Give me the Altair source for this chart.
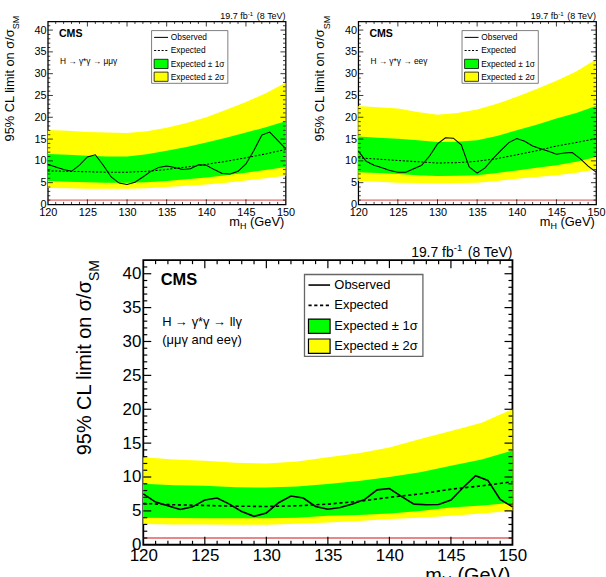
import altair as alt
import pandas as pd

FONT = "Liberation Sans"

# ---------------- data ----------------
x_band = [120, 122.5, 125, 127.5, 130, 132.5, 135, 137.5, 140, 142.5, 145, 147.5, 150]
x_obs = list(range(120, 151))

# H -> gamma* gamma -> mu mu gamma
mm_exp = [7.7, 7.6, 7.5, 7.4, 7.4, 7.6, 8.0, 8.6, 9.2, 9.9, 10.7, 11.6, 12.6]
mm_g_lo = [5.4, 5.2, 5.1, 5.0, 5.0, 5.1, 5.4, 5.8, 6.2, 6.7, 7.3, 7.9, 8.6]
mm_g_hi = [11.6, 11.4, 11.2, 11.0, 11.0, 11.5, 12.3, 13.2, 14.2, 15.3, 16.5, 17.7, 19.1]
mm_y_lo = [3.8, 3.7, 3.6, 3.6, 3.6, 3.7, 4.0, 4.3, 4.6, 5.0, 5.5, 6.0, 6.6]
mm_y_hi = [17.1, 16.9, 16.6, 16.5, 16.4, 16.8, 17.6, 18.7, 20.0, 21.7, 23.5, 25.5, 27.9]
mm_obs = [9.2, 8.6, 8.0, 7.6, 9.0, 10.9, 11.4, 9.0, 6.3, 4.9, 4.6, 5.1, 6.3, 7.6, 8.5, 8.8,
          8.5, 8.0, 8.2, 9.1, 9.0, 8.0, 7.1, 7.0, 7.6, 9.3, 12.4, 15.9, 16.6, 14.7, 12.8]

# H -> gamma* gamma -> e e gamma
ee_exp = [10.7, 10.4, 10.1, 9.8, 9.5, 9.6, 9.9, 10.5, 11.4, 12.3, 13.4, 14.2, 15.1]
ee_g_lo = [7.4, 7.2, 7.0, 6.7, 6.5, 6.6, 6.7, 7.2, 7.8, 8.4, 9.0, 9.8, 10.9]
ee_g_hi = [15.6, 15.3, 15.1, 14.7, 14.3, 14.4, 14.7, 15.7, 17.0, 18.3, 19.7, 21.0, 22.6]
ee_y_lo = [5.4, 5.2, 5.0, 4.9, 4.8, 4.9, 5.0, 5.4, 5.9, 6.3, 6.7, 7.3, 8.0]
ee_y_hi = [22.6, 22.3, 22.0, 21.2, 20.6, 21.0, 21.8, 23.1, 24.7, 26.5, 28.4, 30.5, 33.3]
ee_obs = [12.3, 9.9, 9.0, 8.4, 7.8, 7.4, 7.4, 8.2, 9.0, 11.1, 13.9, 15.3, 15.2, 13.7, 8.6, 7.2,
          8.4, 10.5, 12.4, 14.2, 15.1, 14.5, 13.4, 12.8, 12.2, 11.5, 11.8, 11.9, 10.5, 8.8, 7.4]

# combined ll gamma
ll_exp = [6.1, 5.9, 5.8, 5.7, 5.65, 5.75, 6.0, 6.4, 7.0, 7.5, 8.2, 8.7, 9.3]
ll_g_lo = [4.0, 3.95, 3.9, 3.9, 3.9, 4.0, 4.3, 4.4, 4.6, 5.0, 5.5, 5.8, 6.2]
ll_g_hi = [9.0, 8.8, 8.7, 8.5, 8.45, 8.6, 8.95, 9.4, 10.0, 10.7, 11.65, 12.6, 13.9]
ll_y_lo = [3.05, 3.0, 3.0, 2.95, 2.95, 3.1, 3.3, 3.5, 3.8, 4.0, 4.3, 4.6, 5.0]
ll_y_hi = [12.9, 12.6, 12.4, 12.1, 12.0, 12.3, 12.9, 13.5, 14.35, 15.6, 16.8, 18.0, 20.0]
ll_obs = [7.5, 6.3, 5.75, 5.2, 5.6, 6.6, 6.9, 6.0, 4.9, 4.2, 4.7, 6.2, 7.2, 6.9, 5.65, 5.25,
          5.5, 6.0, 6.7, 8.1, 8.3, 7.1, 6.0, 5.9, 5.95, 6.6, 8.45, 10.2, 9.5, 6.7, 5.6]

x_labels = [120, 125, 130, 135, 140, 145, 150]
y_labels = [0, 5, 10, 15, 20, 25, 30, 35, 40]
x_major = [125, 130, 135, 140, 145]
x_minor = [v for v in range(121, 150) if v % 5]
y_major = [5, 10, 15, 20, 25, 30, 35, 40]
y_minor = [v for v in range(1, 42) if v % 5]
limit_line = [1]

legend_labels = ["Observed", "Expected", "Expected ± 1σ", "Expected ± 2σ"]
lumi_text = ["19.7 fb", "-1", "(8 TeV)"]

# ---------------- helpers ----------------
ARIAL = {"0": 556, "1": 556, "2": 556, "3": 556, "4": 556, "5": 556, "6": 556, "7": 556,
         "8": 556, "9": 556, ".": 278, " ": 278, "f": 278, "b": 556, "(": 333, ")": 333,
         "T": 611, "e": 556, "V": 667, "S": 667, "M": 833, "H": 722, "G": 778, "m": 833,
         "-": 333}


def tw(s, fs):
    return sum(ARIAL.get(c, 556) for c in s) / 1000.0 * fs


ONE = pd.DataFrame({"a": [0]})


def panel(exp, glo, ghi, ylo, yhi, obs, proc_lines, k, w, h, sm_off, xt_off):
    xs = alt.Scale(domain=[120, 150], nice=False, zero=False)
    ys = alt.Scale(domain=[0, 42], nice=False, zero=False)
    xaxis = alt.Axis(values=x_labels, ticks=False, domain=False, grid=False, title=None,
                     labelFont=FONT, labelFontSize=17 * k, labelColor="black",
                     labelPadding=3 * k, labelFlush=False, labelOverlap=False, format="d")
    yaxis = alt.Axis(values=y_labels, ticks=False, domain=False, grid=False, title=None,
                     labelFont=FONT, labelFontSize=17 * k, labelColor="black",
                     labelPadding=2.5 * k, labelOverlap=False, format="d")

    def X(f):
        return alt.X(f, scale=xs, axis=xaxis)

    def Y(f):
        return alt.Y(f, scale=ys, axis=yaxis)

    bands = pd.DataFrame({"x": x_band, "exp": exp, "lo1": glo, "hi1": ghi, "lo2": ylo, "hi2": yhi})
    obs_df = pd.DataFrame({"x": x_obs, "obs": obs})

    layers = []
    layers.append(alt.Chart(bands).mark_area(color="#ffff00").encode(
        x=X("x:Q"), y=Y("lo2:Q"), y2="hi2:Q"))
    layers.append(alt.Chart(bands).mark_area(color="#00ff00").encode(
        x=X("x:Q"), y=Y("lo1:Q"), y2="hi1:Q"))
    layers.append(alt.Chart(pd.DataFrame({"y": limit_line})).mark_rule(
        color="#d01010", strokeWidth=1.2 * k).encode(
        y=Y("y:Q"), x=alt.value(0), x2=alt.value(w)))
    layers.append(alt.Chart(bands).mark_line(color="black", strokeWidth=1.6 * k,
                                             strokeDash=[3.2 * k, 2.6 * k]).encode(
        x=X("x:Q"), y=Y("exp:Q")))
    layers.append(alt.Chart(obs_df).mark_line(color="black", strokeWidth=1.6 * k).encode(
        x=X("x:Q"), y=Y("obs:Q")))

    # ticks on the four sides (inside the frame)
    for vals, ln in ((x_major, 8 * k), (x_minor, 4 * k)):
        d = pd.DataFrame({"x": vals})
        layers.append(alt.Chart(d).mark_rule(color="black", strokeWidth=1.2 * k).encode(
            x=X("x:Q"), y=alt.value(h), y2=alt.value(h - ln)))
        layers.append(alt.Chart(d).mark_rule(color="black", strokeWidth=1.2 * k).encode(
            x=X("x:Q"), y=alt.value(0), y2=alt.value(ln)))
    for vals, ln in ((y_major, 8 * k), (y_minor, 4 * k)):
        d = pd.DataFrame({"y": vals})
        layers.append(alt.Chart(d).mark_rule(color="black", strokeWidth=1.2 * k).encode(
            y=Y("y:Q"), x=alt.value(0), x2=alt.value(ln)))
        layers.append(alt.Chart(d).mark_rule(color="black", strokeWidth=1.2 * k).encode(
            y=Y("y:Q"), x=alt.value(w), x2=alt.value(w - ln)))

    # legend
    layers.append(alt.Chart(ONE).mark_rect(fill="white", stroke="#666666", strokeWidth=1.3 * k).encode(
        x=alt.value(162 * k), x2=alt.value(281 * k), y=alt.value(14.4 * k), y2=alt.value(96.7 * k)))
    ly = [25, 45.4, 66.4, 86.4]
    layers.append(alt.Chart(ONE).mark_rule(color="black", strokeWidth=1.6 * k).encode(
        x=alt.value(166 * k), x2=alt.value(187.7 * k), y=alt.value(ly[0] * k)))
    layers.append(alt.Chart(ONE).mark_rule(color="black", strokeWidth=1.6 * k,
                                           strokeDash=[3.2 * k, 2.6 * k]).encode(
        x=alt.value(166 * k), x2=alt.value(187.7 * k), y=alt.value(ly[1] * k)))
    for col, yc in (("#00ff00", ly[2]), ("#ffff00", ly[3])):
        layers.append(alt.Chart(ONE).mark_rect(fill=col, stroke="black", strokeWidth=1.2 * k).encode(
            x=alt.value(166 * k), x2=alt.value(187.7 * k),
            y=alt.value((yc - 7.2) * k), y2=alt.value((yc + 7.2) * k)))
    for lab, yc in zip(legend_labels, ly):
        layers.append(alt.Chart(ONE).mark_text(text=lab, align="left", baseline="middle",
                                               font=FONT, fontSize=13 * k, color="black").encode(
            x=alt.value(192 * k), y=alt.value(yc * k)))

    # CMS label and process text
    layers.append(alt.Chart(ONE).mark_text(text="CMS", align="left", baseline="middle",
                                           font=FONT, fontWeight="bold", fontSize=16.5 * k,
                                           color="black").encode(
        x=alt.value(17.5 * k), y=alt.value(20 * k)))
    for i, line in enumerate(proc_lines):
        layers.append(alt.Chart(ONE).mark_text(text=line, align="left", baseline="middle",
                                               font=FONT, fontSize=13 * k, color="black").encode(
            x=alt.value(19 * k), y=alt.value((61.7 + 19 * i) * k)))

    # luminosity title: 19.7 fb^-1 (8 TeV)
    fs_t, fs_s = 14 * k, 9.5 * k
    sp = tw(" ", fs_t)
    tot = tw(lumi_text[0], fs_t) + tw(lumi_text[1], fs_s) + sp + tw(lumi_text[2], fs_t)
    x0 = w - tot
    base = -3.3 * k
    layers.append(alt.Chart(ONE).mark_text(text=lumi_text[0], align="left", baseline="alphabetic",
                                           font=FONT, fontSize=fs_t, color="black").encode(
        x=alt.value(x0), y=alt.value(base)))
    layers.append(alt.Chart(ONE).mark_text(text=lumi_text[1], align="left", baseline="alphabetic",
                                           font=FONT, fontSize=fs_s, color="black").encode(
        x=alt.value(x0 + tw(lumi_text[0], fs_t)), y=alt.value(base - 5.5 * k)))
    layers.append(alt.Chart(ONE).mark_text(text=lumi_text[2], align="right", baseline="alphabetic",
                                           font=FONT, fontSize=fs_t, color="black").encode(
        x=alt.value(w), y=alt.value(base)))

    # y axis title: 95% CL limit on sigma/sigma_SM
    fs_y, fs_ys = 20 * k, 14 * k
    layers.append(alt.Chart(ONE).mark_text(text="SM", angle=270, align="right", baseline="middle",
                                           font=FONT, fontSize=fs_ys, color="black").encode(
        x=alt.value(-49 * k), y=alt.value(sm_off)))
    layers.append(alt.Chart(ONE).mark_text(text="95% CL limit on σ/σ", angle=270, align="right",
                                           baseline="middle", font=FONT, fontSize=fs_y,
                                           color="black").encode(
        x=alt.value(-59 * k), y=alt.value(sm_off + tw("SM", fs_ys))))

    # x axis title: m_H (GeV)
    xr = 369 * k
    by = h + xt_off
    layers.append(alt.Chart(ONE).mark_text(text="(GeV)", align="right", baseline="alphabetic",
                                           font=FONT, fontSize=fs_y, color="black").encode(
        x=alt.value(xr), y=alt.value(by)))
    xh = xr - tw(" (GeV)", fs_y)
    layers.append(alt.Chart(ONE).mark_text(text="H", align="right", baseline="alphabetic",
                                           font=FONT, fontSize=fs_ys, color="black").encode(
        x=alt.value(xh), y=alt.value(by + 4.5 * k)))
    layers.append(alt.Chart(ONE).mark_text(text="m", align="right", baseline="alphabetic",
                                           font=FONT, fontSize=fs_y, color="black").encode(
        x=alt.value(xh - tw("H", fs_ys)), y=alt.value(by)))

    return alt.layer(*layers).properties(
        width=w, height=h,
        view=alt.ViewBackground(stroke="black", strokeWidth=1.5 * k + 0.3))


K = 0.644
tl = panel(mm_exp, mm_g_lo, mm_g_hi, mm_y_lo, mm_y_hi, mm_obs,
           ["H → γ*γ → μμγ"], K, 239, 184, -5.5, 21.7)
tr = panel(ee_exp, ee_g_lo, ee_g_hi, ee_y_lo, ee_y_hi, ee_obs,
           ["H → γ*γ → eeγ"], K, 239, 184, -5.5, 21.7)
bot = panel(ll_exp, ll_g_lo, ll_g_hi, ll_y_lo, ll_y_hi, ll_obs,
            ["H → γ*γ → llγ", "(μμγ and eeγ)"], 1.0, 371, 286, 0, 37)

# empty spacer that pushes the bottom panel to the right
SPACER_W = 26
spacer = alt.Chart(ONE).mark_rect(opacity=0).encode(
    x=alt.value(0), x2=alt.value(SPACER_W), y=alt.value(0), y2=alt.value(2)
).properties(width=SPACER_W, height=2, view=alt.ViewBackground(strokeOpacity=0))

top = alt.hconcat(tl, tr, spacing=18)
bottom_row = alt.hconcat(spacer, bot, spacing=0)
chart = alt.vconcat(top, bottom_row, spacing=10).properties(
    padding={"left": 3, "top": 8, "right": 0, "bottom": 0},
    background="white",
).configure(font=FONT)

chart.save("out.html", embed_options={"renderer": "svg", "actions": False})
